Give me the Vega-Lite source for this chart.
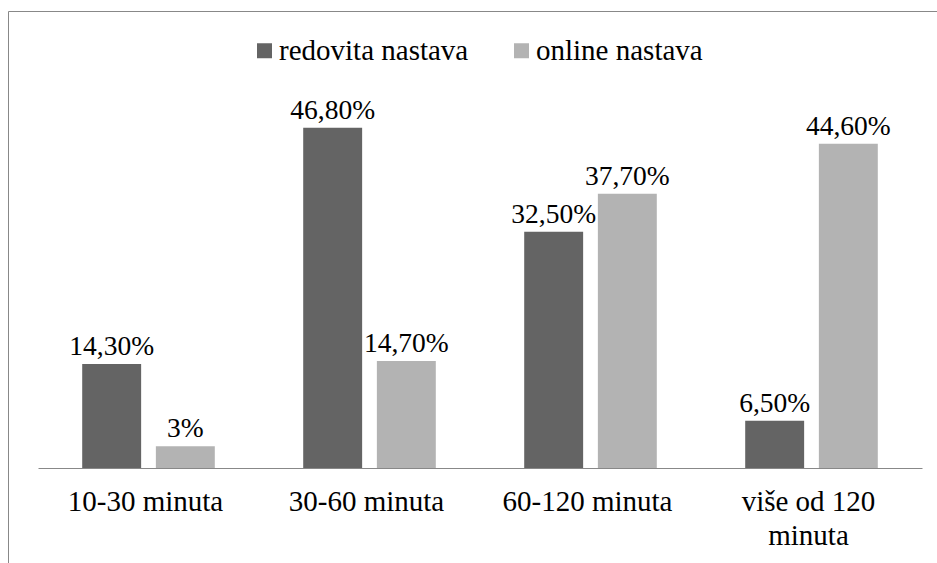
{
  "$schema": "https://vega.github.io/schema/vega-lite/v6.json",
  "autosize": {"type": "none"},
  "padding": {"left": 8, "top": 11, "right": 0, "bottom": 0},
  "width": 929,
  "height": 552,
  "background": "white",
  "config": {
    "view": {"stroke": "#888888", "strokeWidth": 1},
    "font": "Liberation Serif"
  },
  "data": {
    "values": [
      {"kategorija": "10-30 minuta", "serija": "redovita nastava", "vrijednost": 14.3, "oznaka": "14,30%"},
      {"kategorija": "10-30 minuta", "serija": "online nastava", "vrijednost": 3, "oznaka": "3%"},
      {"kategorija": "30-60 minuta", "serija": "redovita nastava", "vrijednost": 46.8, "oznaka": "46,80%"},
      {"kategorija": "30-60 minuta", "serija": "online nastava", "vrijednost": 14.7, "oznaka": "14,70%"},
      {"kategorija": "60-120 minuta", "serija": "redovita nastava", "vrijednost": 32.5, "oznaka": "32,50%"},
      {"kategorija": "60-120 minuta", "serija": "online nastava", "vrijednost": 37.7, "oznaka": "37,70%"},
      {"kategorija": "više od 120 minuta", "serija": "redovita nastava", "vrijednost": 6.5, "oznaka": "6,50%"},
      {"kategorija": "više od 120 minuta", "serija": "online nastava", "vrijednost": 44.6, "oznaka": "44,60%"}
    ]
  },
  "encoding": {
    "x": {
      "field": "kategorija",
      "type": "nominal",
      "sort": ["10-30 minuta", "30-60 minuta", "60-120 minuta", "više od 120 minuta"],
      "scale": {"range": [30, 914], "paddingInner": 0.4, "paddingOuter": 0.2},
      "axis": {
        "title": null,
        "domainColor": "#888888",
        "domainWidth": 1,
        "ticks": false,
        "tickSize": 0,
        "labelAngle": 0,
        "labelFont": "Liberation Serif",
        "labelFontSize": 29,
        "labelColor": "black",
        "labelPadding": 19,
        "labelLineHeight": 34,
        "labelLimit": 400,
        "labelOffset": -3,
        "offset": -95,
        "labelExpr": "datum.value == 'više od 120 minuta' ? ['više od 120', 'minuta'] : datum.value"
      }
    },
    "xOffset": {
      "field": "serija",
      "type": "nominal",
      "sort": ["redovita nastava", "online nastava"],
      "scale": {"paddingInner": 0.2}
    },
    "y": {
      "field": "vrijednost",
      "type": "quantitative",
      "scale": {"domain": [0, 50], "range": [457, 93.4]},
      "axis": null
    }
  },
  "layer": [
    {
      "mark": {"type": "bar"},
      "encoding": {
        "color": {
          "field": "serija",
          "type": "nominal",
          "scale": {"domain": ["redovita nastava", "online nastava"], "range": ["#646464", "#b3b3b3"]},
          "legend": {
            "orient": "none",
            "legendX": 242,
            "legendY": 25,
            "direction": "horizontal",
            "title": null,
            "symbolType": "square",
            "symbolSize": 225,
            "symbolStrokeWidth": 0,
            "labelFont": "Liberation Serif",
            "labelFontSize": 29,
            "labelColor": "black",
            "labelOffset": 0,
            "columnPadding": 38,
            "padding": 0,
            "labelLimit": 400
          }
        }
      }
    },
    {
      "mark": {"type": "text", "dy": -9, "baseline": "alphabetic", "fontSize": 27.5, "font": "Liberation Serif", "color": "black"},
      "encoding": {"text": {"field": "oznaka"}}
    }
  ]
}
